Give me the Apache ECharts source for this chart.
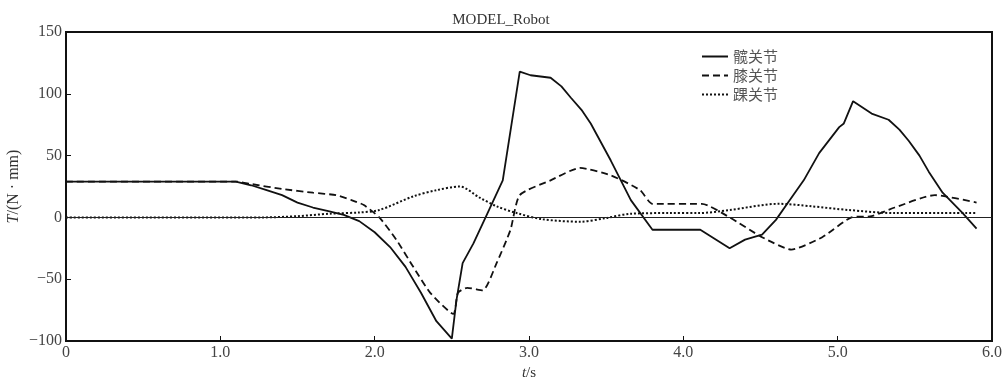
<!DOCTYPE html>
<html>
<head>
<meta charset="utf-8">
<script src="https://cdn.jsdelivr.net/npm/echarts@6/dist/echarts.min.js"></script>
<style>
  html, body { margin: 0; padding: 0; background: #fff; }
  #chart { width: 1002px; height: 378px; }
</style>
</head>
<body>
<div id="chart"></div>
<script>
// 时间 / 力矩 数据
var seriesNames = ['髋关节', '膝关节', '踝关节'];
var xTicks = [0, 1.0, 2.0, 3.0, 4.0, 5.0, 6.0];
var yTicks = [-100, -50, 0, 50, 100, 150];

var hipT = [0, 1.1, 1.2, 1.3, 1.4, 1.5, 1.6, 1.7, 1.8, 1.9, 2.0, 2.1, 2.2, 2.3, 2.4, 2.5,
  2.53, 2.57, 2.64, 2.73, 2.83, 2.94, 3.01, 3.14, 3.21, 3.27, 3.34, 3.40, 3.53, 3.66, 3.80,
  4.11, 4.30, 4.40, 4.51, 4.60, 4.69, 4.78, 4.88, 5.01, 5.04, 5.10, 5.22, 5.33,
  5.40, 5.46, 5.53, 5.59, 5.68, 5.81, 5.90];
var hipV = [29, 29, 26, 22, 18, 12, 8, 5, 2, -3, -12, -24, -40, -61, -84, -98,
  -67, -37, -21, 3, 30, 118, 115, 113, 106, 97, 87, 76, 46, 14, -10,
  -10, -25, -18, -14, -2, 14, 30, 52, 73, 76, 94, 84, 79,
  71, 62, 50, 37, 20, 3.5, -9];

var kneeT = [0, 1.1, 1.2, 1.4, 1.6, 1.75, 1.85, 1.93, 2.03, 2.14, 2.25, 2.36, 2.51,
  2.54, 2.60, 2.70, 2.79, 2.88, 2.94, 3.14, 3.33, 3.53, 3.72, 3.80, 4.12, 4.30,
  4.51, 4.70, 4.90, 5.09, 5.22, 5.37, 5.63, 5.90];
var kneeV = [29, 29, 27, 23, 20, 18, 14, 10, 0, -18, -40, -61, -78,
  -61, -57, -59, -37, -10, 18, 30, 40, 34, 22, 11, 11, 0,
  -16, -26, -16, 0, 1, 8, 18, 12];

var ankleT = [0, 1.28, 1.5, 1.71, 1.9, 2.03, 2.25, 2.4, 2.55, 2.68, 2.79, 2.92, 3.09,
  3.33, 3.50, 3.66, 3.91, 4.10, 4.30, 4.62, 4.83, 5.07, 5.37, 5.90];
var ankleV = [0, 0, 1, 3, 4, 6, 17, 22, 25, 16, 9, 3.5, -1.5,
  -3.5, -0.5, 3, 3.5, 3.5, 6, 11, 9, 6, 3.5, 3.5];

function pairs(t, v) {
  var arr = [];
  for (var i = 0; i < t.length; i++) {
    arr.push([t[i], v[i]]);
  }
  return arr;
}

var font = '"Liberation Serif", "Times New Roman", serif';
var chart = echarts.init(document.getElementById('chart'));
var option = {
  backgroundColor: '#fff',
  animation: false,
  title: {
    text: 'MODEL_Robot',
    left: 'center',
    top: 8,
    textStyle: { fontFamily: font, fontSize: 15, fontWeight: 'normal', color: '#333' }
  },
  legend: {
    orient: 'vertical',
    left: 696,
    top: 44,
    itemWidth: 26,
    itemHeight: 10,
    itemGap: 4,
    data: seriesNames,
    itemStyle: { opacity: 0 },
    textStyle: { fontFamily: '"Noto Sans CJK SC", serif', fontSize: 15, color: '#555' }
  },
  grid: {
    left: 66, right: 10, top: 32, bottom: 37,
    outerBoundsMode: 'none',
    show: true, borderColor: '#111', borderWidth: 2
  },
  xAxis: {
    type: 'value',
    min: 0, max: 6, interval: 1,
    name: '{i|t}/s',
    nameLocation: 'middle',
    nameGap: 22,
    nameTextStyle: {
      fontFamily: font, fontSize: 15, color: '#333',
      rich: { i: { fontFamily: font, fontSize: 15, fontStyle: 'italic', color: '#333' } }
    },
    axisLine: { onZero: false, lineStyle: { color: '#111', width: 2 } },
    axisTick: { inside: true, length: 5, lineStyle: { color: '#111' } },
    axisLabel: {
      fontFamily: font, fontSize: 16, color: '#444', margin: 4,
      formatter: function (v) { return v === 0 ? '0' : v.toFixed(1); }
    },
    splitLine: { show: false }
  },
  yAxis: {
    type: 'value',
    min: -100, max: 150, interval: 50,
    name: '{i|T}/(N · mm)',
    nameLocation: 'middle',
    nameGap: 44,
    nameMoveOverlap: false,
    nameTextStyle: {
      fontFamily: font, fontSize: 16, color: '#333',
      rich: { i: { fontFamily: font, fontSize: 16, fontStyle: 'italic', color: '#333' } }
    },
    axisLine: { lineStyle: { color: '#111', width: 2 } },
    axisTick: { inside: true, length: 5, lineStyle: { color: '#111' } },
    axisLabel: {
      fontFamily: font, fontSize: 16, color: '#444', margin: 4,
      formatter: function (v) { return String(v).replace('-', '\u2212'); }
    },
    splitLine: { show: false }
  },
  series: [
    {
      name: seriesNames[0],
      type: 'line',
      symbol: 'none',
      data: pairs(hipT, hipV),
      lineStyle: { color: '#111', width: 1.8, type: 'solid' },
      itemStyle: { color: '#111' },
      markLine: {
        silent: true,
        symbol: 'none',
        label: { show: false },
        lineStyle: { color: '#222', width: 1, type: 'solid' },
        data: [{ yAxis: 0 }]
      }
    },
    {
      name: seriesNames[1],
      type: 'line',
      symbol: 'none',
      smooth: 0.2,
      data: pairs(kneeT, kneeV),
      lineStyle: { color: '#111', width: 1.8, type: [7, 4] },
      itemStyle: { color: '#111' }
    },
    {
      name: seriesNames[2],
      type: 'line',
      symbol: 'none',
      smooth: 0.3,
      data: pairs(ankleT, ankleV),
      lineStyle: { color: '#111', width: 2, type: [2, 2] },
      itemStyle: { color: '#111' }
    }
  ]
};
chart.setOption(option);
</script>
</body>
</html>
